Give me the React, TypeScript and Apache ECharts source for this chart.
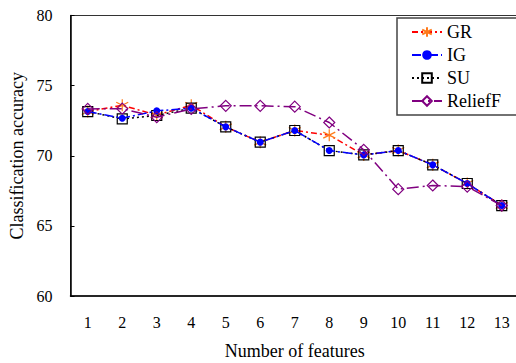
import React, { useEffect, useRef } from "react";
import * as echarts from "echarts";

const categories = ["1", "2", "3", "4", "5", "6", "7", "8", "9", "10", "11", "12", "13"];
const grValues = [73.15, 73.6, 72.9, 73.6, 72.06, 70.97, 71.8, 71.47, 70.06, 70.37, 69.35, 68.02, 66.45];
const igValues = [73.15, 72.68, 73.2, 73.39, 72.06, 70.97, 71.8, 70.37, 70.06, 70.37, 69.35, 68.02, 66.45];
const suValues = [73.15, 72.63, 72.87, 73.39, 72.06, 70.97, 71.8, 70.37, 70.06, 70.37, 69.35, 68.02, 66.45];
const reliefValues = [73.34, 73.36, 72.75, 73.34, 73.56, 73.56, 73.5, 72.37, 70.42, 67.62, 67.88, 67.8, 66.45];
const seriesNames = ["GR", "IG", "SU", "ReliefF"];

const FONT = "'Liberation Serif', 'DejaVu Serif', serif";
const ASTERISK = "path://M5,0L5,10M0.7,2.5L9.3,7.5M0.7,7.5L9.3,2.5";

export default function App() {
  const ref = useRef<HTMLDivElement>(null);
  useEffect(() => {
    document.body.style.margin = "0";
    if (!ref.current) return;
    const chart = echarts.init(ref.current, undefined, { renderer: "svg" });
    chart.setOption({
      animation: false,
      backgroundColor: "#fff",
      grid: {
        left: 70.5,
        top: 15.5,
        right: -3,
        bottom: 67,
        show: true,
        borderColor: "#333",
        borderWidth: 1,
        outerBoundsMode: "none",
      },
      legend: {
        data: seriesNames,
        orient: "vertical",
        left: 397,
        top: 18,
        padding: [5, 16, 5, 14],
        itemGap: 5,
        itemWidth: 30,
        itemHeight: 12,
        backgroundColor: "#fff",
        borderColor: "#444",
        borderWidth: 1.5,
        textStyle: { fontFamily: FONT, fontSize: 18, color: "#000", lineHeight: 18 },
      },
      xAxis: {
        type: "category",
        data: categories,
        boundaryGap: true,
        name: "Number of features",
        nameLocation: "middle",
        nameGap: 46,
        nameTextStyle: { fontFamily: FONT, fontSize: 18, color: "#000" },
        axisLine: { lineStyle: { color: "#000", width: 1.5 } },
        axisTick: { inside: true, length: 4, lineStyle: { color: "#000" } },
        axisLabel: { fontFamily: FONT, fontSize: 16, color: "#000", margin: 18 },
        splitLine: { show: false },
      },
      yAxis: {
        type: "value",
        min: 60,
        max: 80,
        interval: 5,
        name: "Classification accuracy",
        nameLocation: "middle",
        nameGap: 44,
        nameTextStyle: { fontFamily: FONT, fontSize: 18, color: "#000" },
        axisLine: { show: true, lineStyle: { color: "#000", width: 1.5 } },
        axisTick: { show: true, inside: true, length: 4, lineStyle: { color: "#000" } },
        axisLabel: { fontFamily: FONT, fontSize: 16, color: "#000", margin: 18 },
        splitLine: { show: false },
      },
      series: [
        {
          name: "GR",
          type: "line",
          data: grValues,
          z: 2,
          symbol: ASTERISK,
          symbolSize: 12,
          lineStyle: { color: "#ff0000", width: 1.5, type: [6, 3, 2, 3] },
          itemStyle: { color: "rgba(0,0,0,0)", borderColor: "#ff7a1a", borderWidth: 1.2 },
        },
        {
          name: "IG",
          type: "line",
          data: igValues,
          z: 4,
          symbol: "circle",
          symbolSize: 7,
          lineStyle: { color: "#0000ff", width: 1.5, type: [9, 3, 2, 3] },
          itemStyle: { color: "#0000ff", borderColor: "#0000ff", borderWidth: 0 },
        },
        {
          name: "SU",
          type: "line",
          data: suValues,
          z: 3,
          symbol: "rect",
          symbolSize: 10,
          lineStyle: { color: "#000000", width: 1.5, type: [2, 3] },
          itemStyle: { color: "rgba(255,255,255,0)", borderColor: "#000", borderWidth: 1.2 },
        },
        {
          name: "ReliefF",
          type: "line",
          data: reliefValues,
          z: 5,
          symbol: "diamond",
          symbolSize: 11,
          lineStyle: { color: "#800080", width: 1.5, type: [12, 4, 2, 4] },
          itemStyle: { color: "rgba(255,255,255,0)", borderColor: "#800080", borderWidth: 1.2 },
        },
      ],
    });
    return () => chart.dispose();
  }, []);
  return <div ref={ref} style={{ width: 516, height: 363 }} />;
}
